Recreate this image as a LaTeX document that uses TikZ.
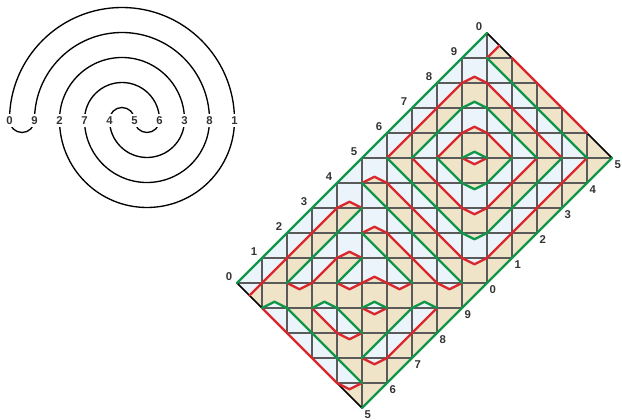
\documentclass[tikz,border=0pt]{standalone}
\usepackage{fontspec}
\setmainfont{Liberation Sans}
\definecolor{cR}{RGB}{218,38,45}
\definecolor{cG}{RGB}{16,150,72}
\definecolor{cB}{RGB}{234,244,250}
\definecolor{cT}{RGB}{239,228,200}
\definecolor{cGrid}{RGB}{90,90,90}
\definecolor{cLab}{RGB}{51,51,51}
\newcommand\Bsq[2]{\fill[cB] (#1,#2) rectangle ++(1,1);}
\newcommand\Bul[2]{\fill[cB] (#1,#2) -- ++(0,1) -- ++(1,0) -- cycle;}
\newcommand\Blr[2]{\fill[cB] (#1,#2) -- ++(1,0) -- ++(0,1) -- cycle;}
\newcommand\Bur[2]{\fill[cB] (#1,#2) ++(0,1) -- ++(1,0) -- ++(0,-1) -- cycle;}
\newcommand\Bll[2]{\fill[cB] (#1,#2) -- ++(0,1) -- ++(1,-1) -- cycle;}
\newcommand\Btent[2]{\fill[cB] (#1,#2) -- ++(0.5,0.25) -- ++(0.5,-0.25) -- cycle;}
\newcommand\Ttent[2]{\Bsq{#1}{#2}\fill[cT] (#1,#2) -- ++(0.5,0.25) -- ++(0.5,-0.25) -- cycle;}
\newcommand\Bvee[2]{\fill[cB] (#1,#2) ++(0,1) -- ++(0.5,-0.25) -- ++(0.5,0.25) -- cycle;}
\newcommand\Tvee[2]{\Bsq{#1}{#2}\fill[cT] (#1,#2) ++(0,1) -- ++(0.5,-0.25) -- ++(0.5,0.25) -- cycle;}
\begin{document}
\begin{tikzpicture}[x=0.75pt,y=0.75pt,
  lab/.style={font=\fontsize{8.5}{10}\selectfont\bfseries, text=cLab, inner sep=0pt},
  rd/.style={cR, line width=1.8pt, line join=round, line cap=round},
  gr/.style={cG, line width=1.8pt, line join=round, line cap=round},
  arcline/.style={black, line width=1pt},
  gridline/.style={cGrid, line width=0.9pt},
  edge/.style={black, line width=1.1pt}]
\useasboundingbox (0,0) rectangle (622,-420);

% ---------------- spiral ----------------
\begin{scope}
  \clip (0,0) rectangle (250,-114);
  \foreach \r in {112.5,87.5,62.5,37.5,12.5}
    \draw[arcline] ({122+\r},-120) arc[start angle=0,end angle=180,radius=\r];
\end{scope}
\begin{scope}
  \clip (0,-127.5) rectangle (250,-240);
  \foreach \r in {87.5,62.5,37.5,12.5}
    \draw[arcline] ({147+\r},-120) arc[start angle=0,end angle=-180,radius=\r];
  \draw[arcline] (34.5,-120) arc[start angle=0,end angle=-180,radius=12.5];
\end{scope}
\foreach \t [count=\k from 0] in {0,9,2,7,4,5,6,3,8,1}
  \node[lab] (s\k) at ({9.5+25*\k},-120.5) {\t};

% ---------------- rectangle ----------------
\begin{scope}[shift={(237,-283)},scale=25]
  \fill[cT] (0,0)--(10,10)--(15,5)--(5,-5)--cycle;
  \begin{scope}
    \clip (0,0)--(10,10)--(15,5)--(5,-5)--cycle;
    % row 9
    \Bsq{9}{9} \fill[cB] (10,9)--(10,10)--(10.5,9.5)--cycle;
    % row 8
    \Bsq{8}{8} \Ttent{9}{8} \Bll{10}{8}
    % row 7
    \Bsq{7}{7} \Bul{8}{7} \Btent{9}{7} \Bur{10}{7} \Bll{11}{7}
    % row 6
    \Bsq{6}{6} \Bul{7}{6} \Blr{8}{6} \Ttent{9}{6} \Bll{10}{6} \Bur{11}{6} \Bll{12}{6}
    % row 5
    \Bsq{5}{5} \Bul{6}{5} \Blr{7}{5} \Bul{8}{5} \Btent{9}{5} \Bur{10}{5} \Bll{11}{5} \Bur{12}{5} \Bll{13}{5}
    % row 4
    \Bsq{4}{4} \Ttent{5}{4} \Bll{6}{4} \Bur{7}{4} \Bll{8}{4} \Bvee{9}{4} \Blr{10}{4} \Bul{11}{4} \Blr{12}{4} \Bul{13}{4}
    % row 3
    \Bsq{3}{3} \Ttent{4}{3} \Bll{5}{3} \Bur{6}{3} \Bll{7}{3} \Bur{8}{3} \Tvee{9}{3} \Bul{10}{3} \Blr{11}{3} \Bul{12}{3}
    % row 2
    \Bsq{2}{2} \Bul{3}{2} \Blr{4}{2} \Ttent{5}{2} \Bll{6}{2} \Bur{7}{2} \Bll{8}{2} \Bvee{9}{2} \Blr{10}{2} \Bul{11}{2}
    % row 1
    \Bsq{1}{1} \Bul{2}{1} \Blr{3}{1} \Ttent{4}{1} \Bll{5}{1} \Bur{6}{1} \Bll{7}{1} \Bur{8}{1} \Tvee{9}{1} \Bul{10}{1}
    % row 0
    \Bsq{0}{0} \Bul{1}{0} \Blr{2}{0} \Bul{3}{0} \Blr{4}{0} \Ttent{5}{0} \Bll{6}{0} \Bur{7}{0} \Bll{8}{0} \Bvee{9}{0}
    % row -1
    \fill[cB] (0,0)--(1,0)--(0.5,-0.5)--cycle;
    \Btent{1}{-1} \Bvee{2}{-1} \Btent{3}{-1} \Bvee{4}{-1} \Btent{5}{-1} \Bvee{6}{-1} \Btent{7}{-1} \Bvee{8}{-1}
    % row -2
    \Bsq{1}{-2} \Bll{2}{-2} \Bur{3}{-2} \Bll{4}{-2} \Bvee{5}{-2} \Blr{6}{-2} \Bul{7}{-2}
    % row -3
    \Bsq{2}{-3} \Bll{3}{-3} \Bvee{4}{-3} \Blr{5}{-3} \Bul{6}{-3}
    % row -4
    \Bsq{3}{-4} \Bll{4}{-4} \Bvee{5}{-4}
    % row -5
    \Bvee{4}{-5}
    % grid
    \foreach \i in {0,...,15} \draw[gridline] (\i,-5)--(\i,10);
    \foreach \j in {-5,...,10} \draw[gridline] (0,\j)--(15,\j);
  \end{scope}

  % short edges
  \draw[edge] (0,0)--(5,-5);
  \draw[edge] (10,10)--(15,5);

  % red curves
  \draw[rd] (10,9)--(10.5,9.5);
  \draw[rd] (0.5,-0.5)--(4,3)--(4.5,3.25)--(5,3);
  \draw[rd] (5,4)--(5.5,4.25)--(6,4)--(9,1)--(9.5,0.75)--(10,1)--(14,5);
  \draw[rd] (2,0)--(2.5,-0.25)--(3,0)--(4,1)--(4.5,1.25)--(5,1);
  \draw[rd] (4,0)--(4.5,-0.25)--(5,0)--(5.5,0.25)--(6,0)--(6.5,-0.25)--(7,0);
  \draw[rd] (5,2)--(5.5,2.25)--(6,2)--(8,0)--(8.5,-0.25)--(9,0);
  \draw[rd] (11,9)--(14,6);
  \draw[rd] (1,-1)--(4,-4)--(4.5,-4.25)--(5,-4);
  \draw[rd] (8,5)--(9,6)--(9.5,6.25)--(10,6)--(11,5);
  \draw[rd] (7,5)--(9,3)--(9.5,2.75)--(10,3)--(12,5);
  \draw[rd] (6,5)--(9,8)--(9.5,8.25)--(10,8)--(13,5);
  \draw[rd] (9,5)--(9.5,4.75)--(10,5);
  \draw[rd] (3,-1)--(4,-2)--(4.5,-2.25)--(5,-2);
  \draw[rd] (5,-1)--(5.5,-1.25)--(6,-1);
  \draw[rd] (5,-3)--(5.5,-3.25)--(6,-3)--(8,-1);

  % green curves
  \draw[gr] (9,5)--(9.5,5.25)--(10,5);
  \draw[gr] (8,5)--(9,4)--(9.5,3.75)--(10,4)--(11,5);
  \draw[gr] (7,5)--(9,7)--(9.5,7.25)--(10,7)--(12,5);
  \draw[gr] (6,5)--(9,2)--(9.5,1.75)--(10,2)--(13,5);
  \draw[gr] (14,5)--(10,9);
  \draw[gr] (5,3)--(2,0);
  \draw[gr] (5,1)--(4,0);
  \draw[gr] (5,2)--(7,0);
  \draw[gr] (9,0)--(5,4);
  \draw[gr] (1,-1)--(1.5,-0.75)--(2,-1)--(5,-4);
  \draw[gr] (3,-1)--(3.5,-0.75)--(4,-1)--(5,-2);
  \draw[gr] (5,-1)--(5.5,-0.75)--(6,-1);
  \draw[gr] (5,-3)--(7,-1)--(7.5,-0.75)--(8,-1);

  % long edges
  \draw[gr] (0,0)--(10,10);
  \draw[gr] (5,-5)--(15,5);

  % labels
  \foreach \t [count=\k from 0] in {0,1,2,3,4,5,6,7,8,9,0}
    \node[lab] (u\k) at ({\k-0.32},{\k+0.27}) {\t};
  \foreach \t [count=\k from 0] in {5,6,7,8,9,0,1,2,3,4,5}
    \node[lab] (d\k) at ({5+\k+0.23},{-5+\k-0.28}) {\t};
\end{scope}
\end{tikzpicture}
\end{document}
